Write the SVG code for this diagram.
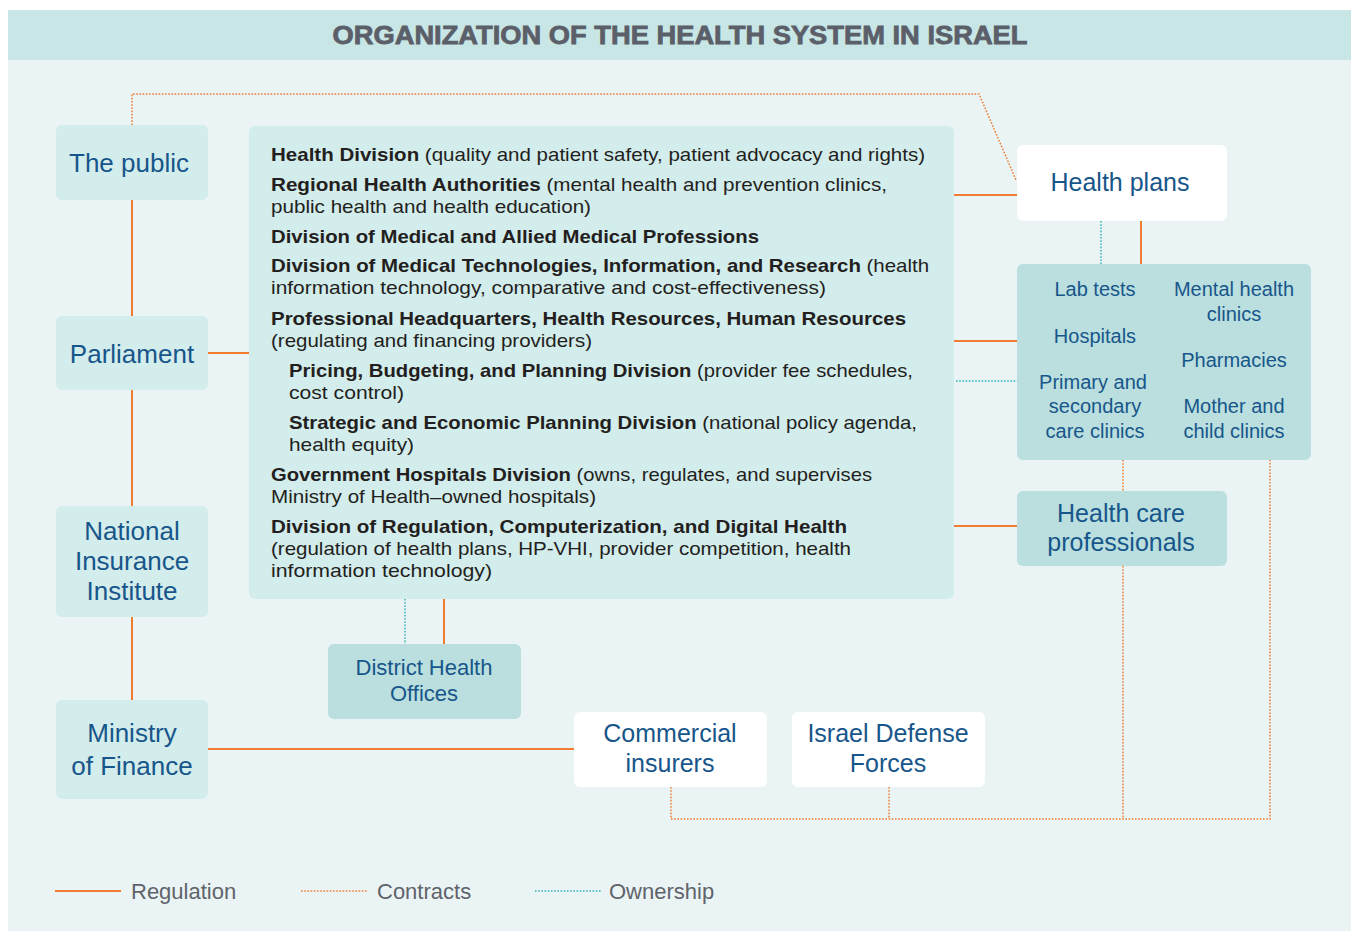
<svg xmlns="http://www.w3.org/2000/svg" width="1351" height="933" viewBox="0 0 1351 933">
<style>
.reg{fill:none;stroke:#ef7d2f;stroke-width:2}
.con{fill:none;stroke:#ef7d2f;stroke-width:1.5;stroke-dasharray:1.6 1.6}
.own{fill:none;stroke:#35b3b3;stroke-width:1.5;stroke-dasharray:1.6 1.6}
.lt{fill:#d3ecec}
.dk{fill:#badfde}
.wh{fill:#ffffff}
.lbl{font-family:"Liberation Sans",Arial,sans-serif;fill:#17568a;text-anchor:middle}
.body{font-family:"Liberation Sans",Arial,sans-serif;font-size:19px;fill:#231f20}
.b{font-weight:bold}
.leg{font-family:"Liberation Sans",Arial,sans-serif;font-size:22px;fill:#60636a}
</style>
<rect x="0" y="0" width="1351" height="933" fill="#ffffff"/>
<rect x="8" y="10" width="1343" height="921" fill="#eaf4f5"/>
<rect x="8" y="10" width="1343" height="50" fill="#c8e6e6"/>
<text x="680" y="44" text-anchor="middle" textLength="695" lengthAdjust="spacingAndGlyphs" style="font-family:'Liberation Sans',Arial,sans-serif;font-size:26px;font-weight:bold;fill:#5b5f69;stroke:#5b5f69;stroke-width:0.8">ORGANIZATION OF THE HEALTH SYSTEM IN ISRAEL</text>

<g id="connectors">
<line class="reg" x1="132" y1="200" x2="132" y2="316"/>
<line class="reg" x1="132" y1="390" x2="132" y2="506"/>
<line class="reg" x1="132" y1="617" x2="132" y2="700"/>
<line class="reg" x1="208" y1="353" x2="249" y2="353"/>
<line class="reg" x1="954" y1="195" x2="1017" y2="195"/>
<line class="reg" x1="954" y1="341" x2="1017" y2="341"/>
<line class="reg" x1="954" y1="526" x2="1017" y2="526"/>
<line class="reg" x1="1141" y1="221" x2="1141" y2="264"/>
<line class="reg" x1="444" y1="599" x2="444" y2="644"/>
<line class="reg" x1="208" y1="749" x2="574" y2="749"/>
<path class="con" d="M132,125 V94 H979 L1016,180"/>
<path class="con" d="M671,787 V819 H1270 V460"/>
<line class="con" x1="889" y1="787" x2="889" y2="819"/>
<line class="con" x1="1123" y1="460" x2="1123" y2="491"/>
<line class="con" x1="1123" y1="566" x2="1123" y2="819"/>
<line class="own" x1="1101" y1="221" x2="1101" y2="264"/>
<line class="own" x1="956" y1="381" x2="1017" y2="381"/>
<line class="own" x1="405" y1="599" x2="405" y2="644"/>
</g>

<g id="the-public">
<rect class="lt" x="56" y="125" width="152" height="75" rx="6"/>
<text class="lbl" x="129" y="172" font-size="26">The public</text>
</g>
<g id="parliament">
<rect class="lt" x="56" y="316" width="152" height="74" rx="6"/>
<text class="lbl" x="132" y="363" font-size="26">Parliament</text>
</g>
<g id="national-insurance-institute">
<rect class="lt" x="56" y="506" width="152" height="111" rx="6"/>
<text class="lbl" x="132" y="540" font-size="26">National</text>
<text class="lbl" x="132" y="570" font-size="26">Insurance</text>
<text class="lbl" x="132" y="600" font-size="26">Institute</text>
</g>
<g id="ministry-of-finance">
<rect class="lt" x="56" y="700" width="152" height="99" rx="6"/>
<text class="lbl" x="132" y="742" font-size="26">Ministry</text>
<text class="lbl" x="132" y="775" font-size="26">of Finance</text>
</g>

<g id="ministry-of-health">
<rect class="lt" x="249" y="126" width="705" height="473" rx="6"/>
<text class="body" x="271" y="161" textLength="654" lengthAdjust="spacingAndGlyphs"><tspan class="b">Health Division</tspan> (quality and patient safety, patient advocacy and rights)</text>
<text class="body" x="271" y="191" textLength="616" lengthAdjust="spacingAndGlyphs"><tspan class="b">Regional Health Authorities</tspan> (mental health and prevention clinics,</text>
<text class="body" x="271" y="213" textLength="320" lengthAdjust="spacingAndGlyphs">public health and health education)</text>
<text class="body b" x="271" y="243" textLength="488" lengthAdjust="spacingAndGlyphs">Division of Medical and Allied Medical Professions</text>
<text class="body" x="271" y="272" textLength="658" lengthAdjust="spacingAndGlyphs"><tspan class="b">Division of Medical Technologies, Information, and Research</tspan> (health</text>
<text class="body" x="271" y="294" textLength="555" lengthAdjust="spacingAndGlyphs">information technology, comparative and cost-effectiveness)</text>
<text class="body b" x="271" y="325" textLength="635" lengthAdjust="spacingAndGlyphs">Professional Headquarters, Health Resources, Human Resources</text>
<text class="body" x="271" y="347" textLength="321" lengthAdjust="spacingAndGlyphs">(regulating and financing providers)</text>
<text class="body" x="289" y="377" textLength="624" lengthAdjust="spacingAndGlyphs"><tspan class="b">Pricing, Budgeting, and Planning Division</tspan> (provider fee schedules,</text>
<text class="body" x="289" y="399" textLength="115" lengthAdjust="spacingAndGlyphs">cost control)</text>
<text class="body" x="289" y="429" textLength="628" lengthAdjust="spacingAndGlyphs"><tspan class="b">Strategic and Economic Planning Division</tspan> (national policy agenda,</text>
<text class="body" x="289" y="451" textLength="125" lengthAdjust="spacingAndGlyphs">health equity)</text>
<text class="body" x="271" y="481" textLength="601" lengthAdjust="spacingAndGlyphs"><tspan class="b">Government Hospitals Division</tspan> (owns, regulates, and supervises</text>
<text class="body" x="271" y="503" textLength="325" lengthAdjust="spacingAndGlyphs">Ministry of Health–owned hospitals)</text>
<text class="body b" x="271" y="533" textLength="576" lengthAdjust="spacingAndGlyphs">Division of Regulation, Computerization, and Digital Health</text>
<text class="body" x="271" y="555" textLength="580" lengthAdjust="spacingAndGlyphs">(regulation of health plans, HP-VHI, provider competition, health</text>
<text class="body" x="271" y="577" textLength="221" lengthAdjust="spacingAndGlyphs">information technology)</text>
</g>

<g id="health-plans">
<rect class="wh" x="1017" y="145" width="210" height="76" rx="6"/>
<text class="lbl" x="1120" y="191" font-size="25">Health plans</text>
</g>
<g id="providers">
<rect class="dk" x="1017" y="264" width="294" height="196" rx="6"/>
<text class="lbl" x="1095" y="296" font-size="20">Lab tests</text>
<text class="lbl" x="1095" y="343" font-size="20">Hospitals</text>
<text class="lbl" x="1093" y="389" font-size="20">Primary and</text>
<text class="lbl" x="1095" y="413" font-size="20">secondary</text>
<text class="lbl" x="1095" y="438" font-size="20">care clinics</text>
<text class="lbl" x="1234" y="296" font-size="20">Mental health</text>
<text class="lbl" x="1234" y="321" font-size="20">clinics</text>
<text class="lbl" x="1234" y="367" font-size="20">Pharmacies</text>
<text class="lbl" x="1234" y="413" font-size="20">Mother and</text>
<text class="lbl" x="1234" y="438" font-size="20">child clinics</text>
</g>
<g id="health-care-professionals">
<rect class="dk" x="1017" y="491" width="210" height="75" rx="6"/>
<text class="lbl" x="1121" y="522" font-size="25">Health care</text>
<text class="lbl" x="1121" y="551" font-size="25">professionals</text>
</g>
<g id="district-health-offices">
<rect class="dk" x="328" y="644" width="193" height="75" rx="6"/>
<text class="lbl" x="424" y="675" font-size="22">District Health</text>
<text class="lbl" x="424" y="701" font-size="22">Offices</text>
</g>
<g id="commercial-insurers">
<rect class="wh" x="574" y="712" width="193" height="75" rx="6"/>
<text class="lbl" x="670" y="742" font-size="25">Commercial</text>
<text class="lbl" x="670" y="772" font-size="25">insurers</text>
</g>
<g id="israel-defense-forces">
<rect class="wh" x="792" y="712" width="193" height="75" rx="6"/>
<text class="lbl" x="888" y="742" font-size="25">Israel Defense</text>
<text class="lbl" x="888" y="772" font-size="25">Forces</text>
</g>

<g id="legend">
<line class="reg" x1="55" y1="891" x2="121" y2="891"/>
<text class="leg" x="131" y="899">Regulation</text>
<line class="con" x1="301" y1="891" x2="367" y2="891"/>
<text class="leg" x="377" y="899">Contracts</text>
<line class="own" x1="535" y1="891" x2="601" y2="891"/>
<text class="leg" x="609" y="899">Ownership</text>
</g>
</svg>
